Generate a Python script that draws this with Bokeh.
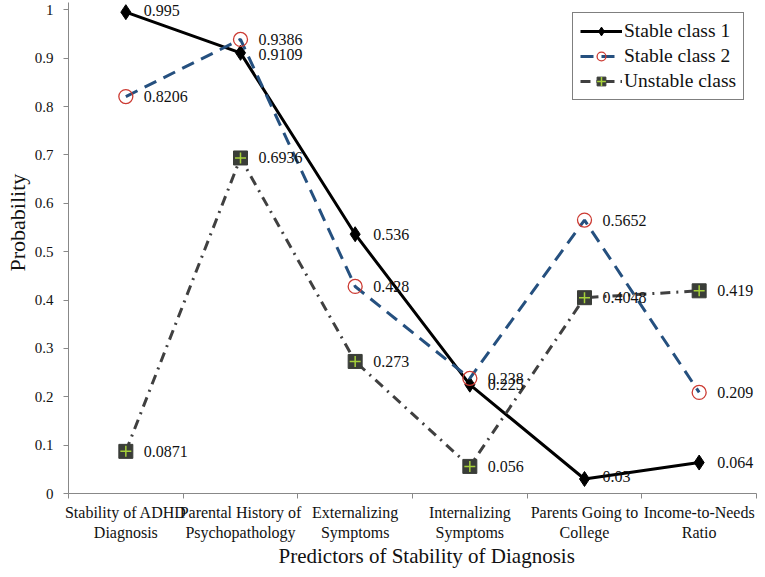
from bokeh.plotting import figure
from bokeh.models import (ColumnDataSource, Range1d, FixedTicker, Legend, LegendItem, Title)
from bokeh.core.properties import value
from bokeh.embed import file_html
from bokeh.resources import INLINE

# ---- data ----
categories = ["Stability of ADHD\nDiagnosis", "Parental History of\nPsychopathology",
              "Externalizing\nSymptoms", "Internalizing\nSymptoms",
              "Parents Going to\nCollege", "Income-to-Needs\nRatio"]
stable1 = [0.995, 0.9109, 0.536, 0.225, 0.03, 0.064]
stable2 = [0.8206, 0.9386, 0.428, 0.238, 0.5652, 0.209]
unstable = [0.0871, 0.6936, 0.273, 0.056, 0.4048, 0.419]
y_ticks = [0, 0.1, 0.2, 0.3, 0.4, 0.5, 0.6, 0.7, 0.8, 0.9, 1]

SERIF = "Liberation Serif"
NARROW = "Liberation Sans Narrow"

xs = [i + 0.5 for i in range(len(categories))]

p = figure(width=757, height=569, output_backend="svg", toolbar_location=None,
           x_range=Range1d(0, len(categories)), y_range=Range1d(0, 1.015),
           min_border_left=68, min_border_right=1, min_border_top=2, min_border_bottom=72)
p.outline_line_color = None
p.grid.visible = False
p.background_fill_color = "white"

# x axis
xa = p.xaxis[0]
xa.ticker = FixedTicker(ticks=xs, minor_ticks=list(range(len(categories) + 1)))
xa.major_label_overrides = {x: c for x, c in zip(xs, categories)}
xa.major_tick_out = 0
xa.major_tick_in = 0
xa.minor_tick_out = 5
xa.minor_tick_in = 0
xa.minor_tick_line_color = "#888888"
xa.axis_line_color = "#888888"
xa.major_label_text_font = NARROW
xa.major_label_text_font_size = "16px"
xa.major_label_text_color = "#111111"
xa.major_label_standoff = 5

# y axis
ya = p.yaxis[0]
ya.ticker = FixedTicker(ticks=y_ticks, minor_ticks=[])
ya.major_label_overrides = {t: ("%g" % t) for t in y_ticks}
ya.major_tick_out = 5
ya.major_tick_in = 0
ya.major_tick_line_color = "#888888"
ya.axis_line_color = "#888888"
ya.major_label_text_font = SERIF
ya.major_label_text_font_size = "15px"
ya.major_label_text_color = "#111111"
ya.major_label_standoff = 10

ytitle = Title(text="Probability", align="left", offset=222, standoff=0, vertical_align="top",
               text_font=SERIF, text_font_size="22px", text_font_style="normal",
               text_color="#111111")
p.add_layout(ytitle, "left")
xtitle = Title(text="Predictors of Stability of Diagnosis", align="left", offset=210, standoff=0,
               vertical_align="top",
               text_font=SERIF, text_font_size="21px", text_font_style="normal",
               text_color="#111111")
p.add_layout(xtitle, "below")

# series
BLUE = "#25507f"
RED = "#cc3b33"
GREY = "#404040"
GREEN = "#a6d13a"

s1 = ColumnDataSource(dict(x=xs, y=stable1))
s2 = ColumnDataSource(dict(x=xs, y=stable2))
s3 = ColumnDataSource(dict(x=xs, y=unstable))

l1 = p.line("x", "y", source=s1, line_color="black", line_width=3)
m1 = p.scatter("x", "y", source=s1, marker="diamond", size=15, fill_color="black", line_color="black")

l2 = p.line("x", "y", source=s2, line_color=BLUE, line_width=3, line_dash="13 8")
m2 = p.scatter("x", "y", source=s2, marker="circle", size=14, fill_color=None, line_color=RED, line_width=1.3)

l3 = p.line("x", "y", source=s3, line_color=GREY, line_width=3, line_dash="10 6 2 6")
m3 = p.scatter("x", "y", source=s3, marker="square", size=14, fill_color="#3a3d38", line_color="#3a3d38")
m3c = p.scatter("x", "y", source=s3, marker="cross", size=11, line_color=GREEN, line_width=1.5)

# data labels (small vertical nudges in px)
label_dy = {"stable1": [-2, 2, 0, 0, -2, 0], "stable2": [0, 0, 0, 0, 0, 0], "unstable": [0, 0, 0, 0, 0, 0]}
for name, vals in (("stable1", stable1), ("stable2", stable2), ("unstable", unstable)):
    src = ColumnDataSource(dict(x=xs, y=vals, t=[str(v) for v in vals], dy=label_dy[name]))
    p.text("x", "y", text="t", source=src, x_offset=18, y_offset="dy",
           text_font=value(SERIF), text_font_size="16px", text_color="#111111",
           text_align="left", text_baseline="middle")

legend = Legend(items=[
    LegendItem(label="Stable class 1", renderers=[l1, m1]),
    LegendItem(label="Stable class 2", renderers=[l2, m2]),
    LegendItem(label="Unstable class", renderers=[l3, m3, m3c]),
])
legend.label_text_font = SERIF
legend.label_text_font_size = "19.5px"
legend.label_text_color = "#111111"
legend.border_line_color = "black"
legend.border_line_width = 1.5
legend.background_fill_alpha = 1
legend.glyph_width = 42
legend.glyph_height = 22
legend.label_standoff = 2
legend.spacing = 3
legend.padding = 7
legend.margin = 0
legend.location = (504, 393)
p.add_layout(legend)

open("out.html", "w").write(file_html(p, INLINE))
